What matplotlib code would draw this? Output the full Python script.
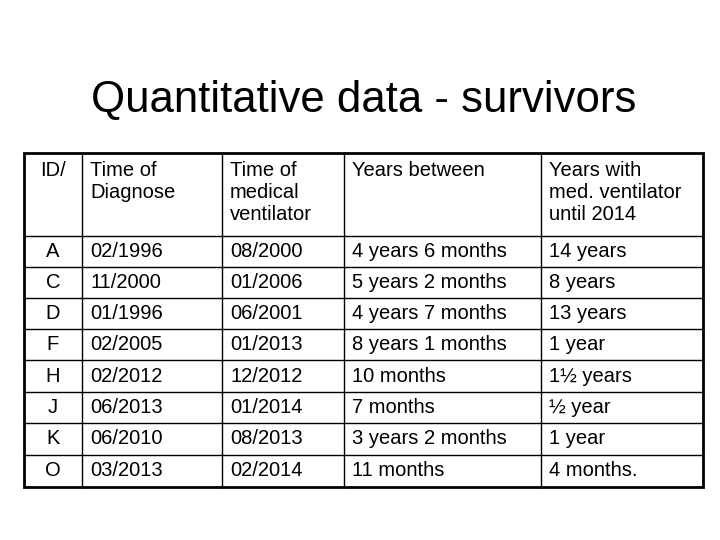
import matplotlib
matplotlib.use("Agg")
import matplotlib.pyplot as plt

title = "Quantitative data - survivors"
headers = ["ID/", "Time of\nDiagnose", "Time of\nmedical\nventilator", "Years between", "Years with\nmed. ventilator\nuntil 2014"]
ids = ["A", "C", "D", "F", "H", "J", "K", "O"]
diagnose = ["02/1996", "11/2000", "01/1996", "02/2005", "02/2012", "06/2013", "06/2010", "03/2013"]
ventilator = ["08/2000", "01/2006", "06/2001", "01/2013", "12/2012", "01/2014", "08/2013", "02/2014"]
between = ["4 years 6 months", "5 years 2 months", "4 years 7 months", "8 years 1 months",
           "10 months", "7 months", "3 years 2 months", "11 months"]
with_vent = ["14 years", "8 years", "13 years", "1 year", "1½ years", "½ year", "1 year", "4 months."]

plt.rcParams['font.family'] = ['Liberation Sans', 'DejaVu Sans']
fig = plt.figure(figsize=(7.2, 5.4), dpi=100)
ax = fig.add_axes([0, 0, 1, 1])
ax.set_xlim(0, 720); ax.set_ylim(540, 0); ax.axis('off')

ax.text(364, 100, title, fontsize=31.5, ha='center', va='center')

colx = [24, 82, 222, 344, 541, 703]
rowy = [153, 236, 267, 298, 329, 360, 392, 423, 455, 487]
for x in colx[1:-1]:
    ax.plot([x, x], [rowy[0], rowy[-1]], color='black', lw=1)
for y in rowy[1:-1]:
    ax.plot([colx[0], colx[-1]], [y, y], color='black', lw=1)
ax.add_patch(plt.Rectangle((colx[0], rowy[0]), colx[-1]-colx[0], rowy[-1]-rowy[0],
                           fill=False, lw=2, ec='black'))

fs = 14.5
for j, h in enumerate(headers):
    if j == 0:
        ax.text((colx[0]+colx[1])/2, 161, h, fontsize=fs, ha='center', va='top', linespacing=1.2)
    else:
        ax.text(colx[j]+8, 161, h, fontsize=fs, ha='left', va='top', linespacing=1.2)

cols = [ids, diagnose, ventilator, between, with_vent]
for i in range(len(ids)):
    yc = (rowy[i+1] + rowy[i+2]) / 2
    for j, c in enumerate(cols):
        if j == 0:
            ax.text((colx[0]+colx[1])/2, yc, c[i], fontsize=fs, ha='center', va='center')
        else:
            ax.text(colx[j]+8, yc, c[i], fontsize=fs, ha='left', va='center')

fig.savefig("out.png", dpi=100)
